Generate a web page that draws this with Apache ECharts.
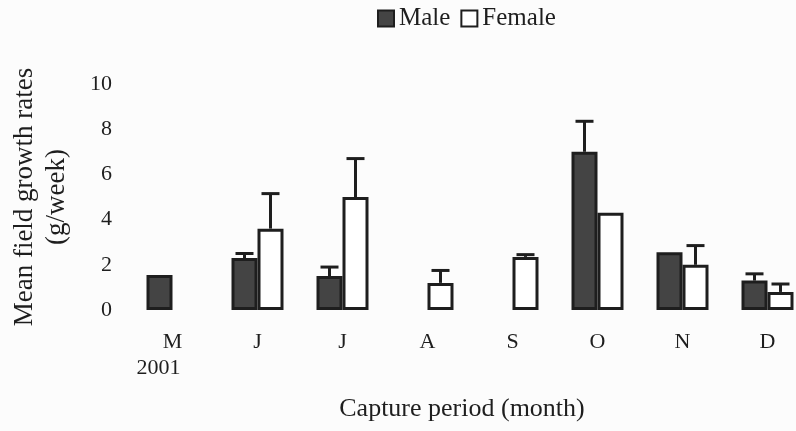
<!DOCTYPE html>
<html>
<head>
<meta charset="utf-8">
<script src="https://cdn.jsdelivr.net/npm/echarts@6/dist/echarts.min.js"></script>
<style>
  html, body { margin: 0; padding: 0; background: #fcfcfc; }
  #chart { width: 796px; height: 431px; }
</style>
</head>
<body>
<div id="chart"></div>
<script>
// Capture periods (months of 2001)
const months = ['M', 'J', 'J', 'A', 'S', 'O', 'N', 'D'];
const yTicks = [0, 2, 4, 6, 8, 10];

// Mean field growth rate (g/week) by sex
const maleMean   = [1.55, 2.3, 1.5, null, null, 7.0, 2.55, 1.3];
const femaleMean = [null, 3.6, 5.0, 1.2, 2.35, 4.3, 2.0, 0.8];

// Standard error (upper whisker only)
const maleSE   = [null, 0.2, 0.4, null, null, 1.35, null, 0.3];
const femaleSE = [null, 1.55, 1.7, 0.55, 0.1, null, 0.85, 0.35];

const FONT = 'Liberation Serif';
const INK = '#1e1e1e';
const BAR_W = 26;

// [category index, mean, mean + SE] for each bar that has a whisker
function errorData(mean, se) {
  const out = [];
  mean.forEach((m, i) => {
    if (m != null && se[i] != null) out.push([i, m, m + se[i]]);
  });
  return out;
}

function errorRenderer(offset) {
  return function (params, api) {
    const base = api.coord([api.value(0), api.value(1)]);
    const top = api.coord([api.value(0), api.value(2)]);
    const x = base[0] + offset;
    const cap = 9;
    return {
      type: 'group',
      children: [
        { type: 'line', shape: { x1: x, y1: base[1], x2: x, y2: top[1] },
          style: { stroke: INK, lineWidth: 3 } },
        { type: 'line', shape: { x1: x - cap, y1: top[1], x2: x + cap, y2: top[1] },
          style: { stroke: INK, lineWidth: 3 } }
      ]
    };
  };
}

const chart = echarts.init(document.getElementById('chart'));
chart.setOption({
  backgroundColor: '#fcfcfc',
  animation: false,
  textStyle: { fontFamily: FONT, color: INK },
  legend: {
    left: 372, top: 1,
    itemWidth: 16, itemHeight: 16, itemGap: 10,
    icon: 'rect',
    textStyle: { fontFamily: FONT, fontSize: 25, color: INK },
    data: ['Male', 'Female']
  },
  grid: { left: 130, right: -14, top: 84, bottom: 121, outerBoundsMode: 'none' },
  xAxis: {
    type: 'category',
    data: months,
    axisLine: { show: false },
    axisTick: { show: false },
    axisLabel: {
      interval: 0,
      margin: 19,
      fontFamily: FONT, fontSize: 22, color: INK,
      formatter: function (v, i) {
        return i === 0 ? '{m|' + v + '}\n{y|2001}' : '{m|' + v + '}';
      },
      rich: {
        m: { fontFamily: FONT, fontSize: 22, color: INK, lineHeight: 26 },
        y: { fontFamily: FONT, fontSize: 22, color: INK, lineHeight: 26, padding: [0, 28, 0, 0] }
      }
    },
    name: 'Capture period (month)',
    nameLocation: 'middle',
    nameGap: 86,
    nameTextStyle: { fontFamily: FONT, fontSize: 26, color: INK, padding: [0, 16, 0, 0] }
  },
  yAxis: {
    type: 'value',
    min: yTicks[0], max: yTicks[yTicks.length - 1], interval: 2,
    axisLine: { show: false },
    axisTick: { show: false },
    splitLine: { show: false },
    axisLabel: { margin: 18, fontFamily: FONT, fontSize: 22, color: INK },
    name: 'Mean field growth rates\n(g/week)',
    nameLocation: 'middle',
    nameRotate: 90,
    nameGap: 57,
    nameTextStyle: { fontFamily: FONT, fontSize: 27, color: INK, lineHeight: 32 }
  },
  series: [
    {
      name: 'Male', type: 'bar', data: maleMean,
      barWidth: BAR_W, barGap: '0%',
      itemStyle: { color: '#444444', borderColor: INK, borderWidth: 3 }
    },
    {
      name: 'Female', type: 'bar', data: femaleMean,
      barWidth: BAR_W, barGap: '0%',
      itemStyle: { color: '#ffffff', borderColor: INK, borderWidth: 3 }
    },
    {
      type: 'custom', name: 'Male SE',
      data: errorData(maleMean, maleSE),
      encode: { x: 0, y: [1, 2] },
      renderItem: errorRenderer(-BAR_W / 2), z: 3
    },
    {
      type: 'custom', name: 'Female SE',
      data: errorData(femaleMean, femaleSE),
      encode: { x: 0, y: [1, 2] },
      renderItem: errorRenderer(BAR_W / 2), z: 3
    }
  ]
});
</script>
</body>
</html>
